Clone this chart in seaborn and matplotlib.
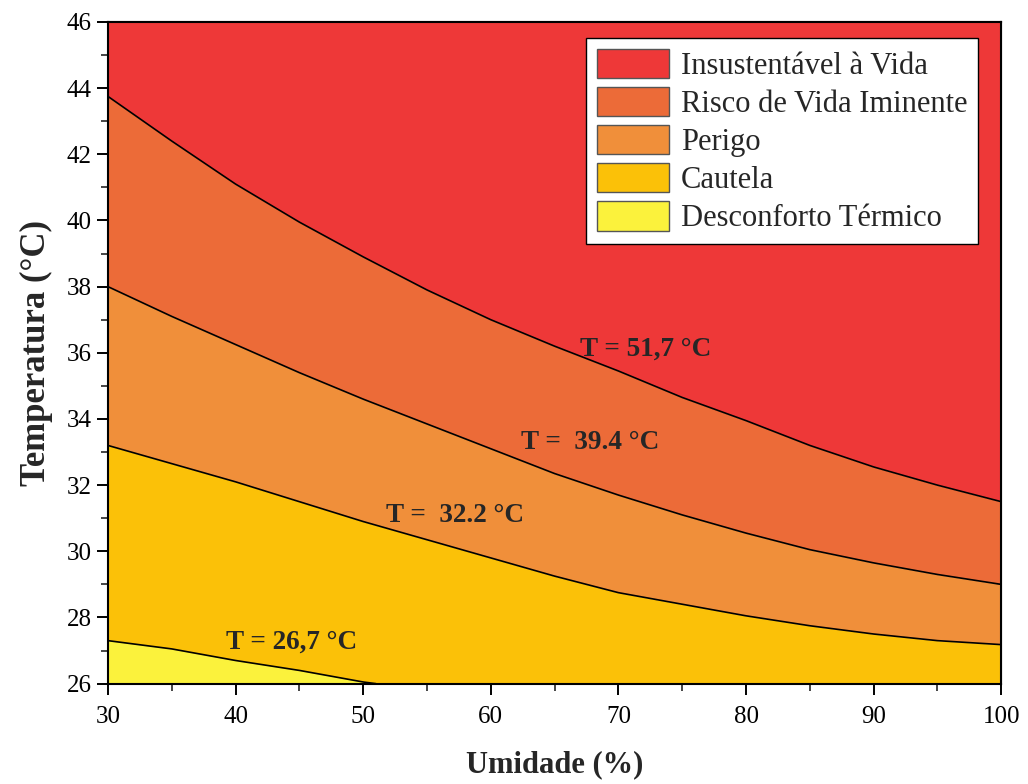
import numpy as np
import pandas as pd
import seaborn as sns
import matplotlib.pyplot as plt
from matplotlib.patches import Patch
from matplotlib.ticker import MultipleLocator


# heat index boundaries (temperature in °C at each humidity)
humidity = [30, 35, 40, 45, 50, 55, 60, 65, 70, 75, 80, 85, 90, 95, 100]
t_limit_517 = [43.75, 42.4, 41.1, 39.95, 38.9, 37.9, 37.0, 36.2, 35.45, 34.65, 33.95, 33.2, 32.55, 32.0, 31.5]
t_limit_394 = [38.0, 37.1, 36.25, 35.4, 34.6, 33.85, 33.1, 32.35, 31.7, 31.1, 30.55, 30.05, 29.65, 29.3, 29.0]
t_limit_322 = [33.2, 32.65, 32.1, 31.5, 30.9, 30.35, 29.8, 29.25, 28.75, 28.4, 28.05, 27.75, 27.5, 27.3, 27.18]
humidity_267 = [30, 35, 40, 45, 50, 51]
t_limit_267 = [27.3, 27.05, 26.7, 26.4, 26.05, 26.0]

zone_names = ['Insustentável à Vida', 'Risco de Vida Iminente', 'Perigo',
              'Cautela', 'Desconforto Térmico']
zone_colors = ['#EE3838', '#EC6B38', '#F08F3A', '#FBC108', '#FBF23C']

line_labels = ['T = 51,7 °C', 'T =  39.4 °C', 'T =  32.2 °C', 'T = 26,7 °C']
label_pos = [(72.1, 36.1), (67.8, 33.28), (57.2, 31.07), (44.4, 27.24)]

t_min, t_max = 26, 46

sns.set_style('ticks')
plt.rcParams['font.family'] = ['Liberation Serif', 'DejaVu Serif']

fig, ax = plt.subplots(figsize=(10.28, 7.84), dpi=100)
fig.subplots_adjust(left=0.105, right=0.974, top=0.972, bottom=0.128)

h = np.array(humidity)
# filled zones
ax.fill_between(h, t_limit_517, t_max, color=zone_colors[0], lw=0)
ax.fill_between(h, t_limit_394, t_limit_517, color=zone_colors[1], lw=0)
ax.fill_between(h, t_limit_322, t_limit_394, color=zone_colors[2], lw=0)
ax.fill_between(h, t_min, t_limit_322, color=zone_colors[3], lw=0)
ax.fill_between(humidity_267, t_min, t_limit_267, color=zone_colors[4], lw=0)

# boundary lines
for t_lim in [t_limit_517, t_limit_394, t_limit_322]:
    sns.lineplot(x=humidity, y=t_lim, color='black', linewidth=1.2, ax=ax)
sns.lineplot(x=humidity_267, y=t_limit_267, color='black', linewidth=1.2, ax=ax)

for txt, (x, y) in zip(line_labels, label_pos):
    ax.text(x, y, txt, ha='center', va='center', fontsize=19.5, fontweight='bold')

ax.set_xlim(30, 100)
ax.set_ylim(t_min, t_max)
ax.xaxis.set_major_locator(MultipleLocator(10))
ax.xaxis.set_minor_locator(MultipleLocator(5))
ax.yaxis.set_major_locator(MultipleLocator(2))
ax.yaxis.set_minor_locator(MultipleLocator(1))
ax.tick_params(which='major', direction='out', length=8, width=1.4, labelsize=18, colors='black')
ax.tick_params(axis='x', which='major', pad=8)
ax.tick_params(which='minor', direction='out', length=5, width=1.2)

# inward ticks on top and right
top = ax.secondary_xaxis('top')
top.xaxis.set_major_locator(MultipleLocator(10))
top.xaxis.set_minor_locator(MultipleLocator(5))
top.tick_params(which='major', direction='in', length=8, width=1.4, labeltop=False)
top.tick_params(which='minor', direction='in', length=5, width=1.2)
right = ax.secondary_yaxis('right')
right.yaxis.set_major_locator(MultipleLocator(2))
right.yaxis.set_minor_locator(MultipleLocator(1))
right.tick_params(which='major', direction='in', length=8, width=1.4, labelright=False)
right.tick_params(which='minor', direction='in', length=5, width=1.2)

for sp in ax.spines.values():
    sp.set_linewidth(1.5)
    sp.set_color('black')
for s in [top, right]:
    for sp in s.spines.values():
        sp.set_linewidth(1.5)

ax.set_xlabel('Umidade (%)', fontsize=22, fontweight='bold', labelpad=16)
ax.set_ylabel('Temperatura (°C)', fontsize=25, fontweight='bold', labelpad=10)

handles = [Patch(facecolor=c, edgecolor='#555555', linewidth=1) for c in zone_colors]
leg = ax.legend(handles, zone_names, loc='upper right', bbox_to_anchor=(0.974, 0.976),
                borderaxespad=0, fontsize=22, frameon=True, fancybox=False,
                handlelength=2.35, handleheight=1.1, labelspacing=0.2,
                handletextpad=0.4, borderpad=0.35)
leg.get_frame().set_edgecolor('black')
leg.get_frame().set_linewidth(1)
leg.get_frame().set_alpha(1)

fig.savefig('out.png', dpi=100)
